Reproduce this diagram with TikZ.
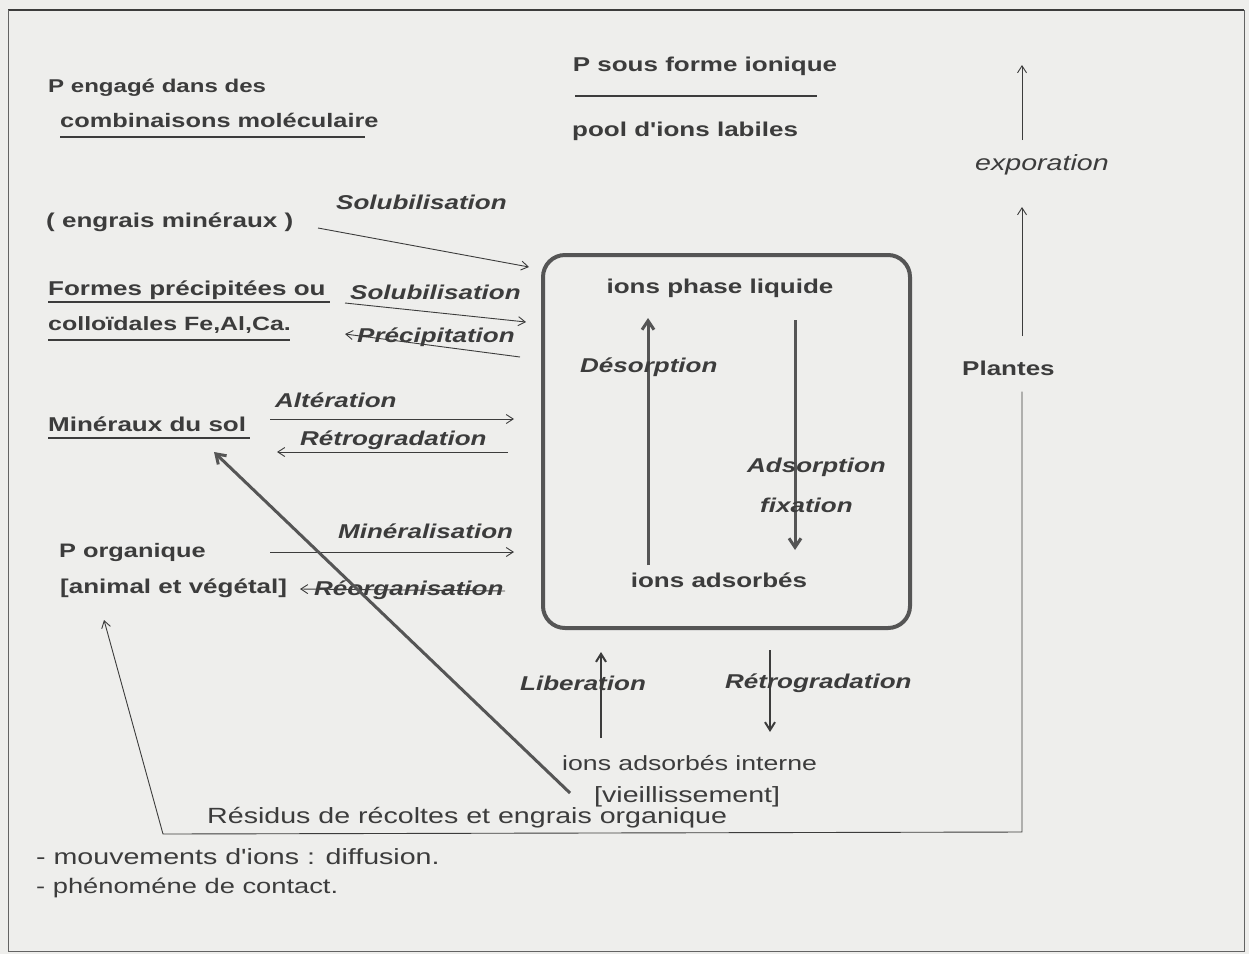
\documentclass[tikz,border=0pt]{standalone}
\usepackage{fontspec}
\setmainfont{Liberation Sans}
\newfontfamily\widefont[FakeStretch=1.3]{Liberation Sans}
\usetikzlibrary{arrows.meta}
\definecolor{bgc}{RGB}{238,238,236}
\definecolor{ink}{RGB}{60,60,60}
\definecolor{boxc}{RGB}{85,85,85}
\tikzset{
  lab/.style={anchor=west, inner sep=0pt, text=ink, font=\widefont\bfseries\fontsize{20}{24}\selectfont},
  labc/.style={lab, anchor=center},
  cond/.style={anchor=west, inner sep=0pt, text=ink, font=\widefont\fontsize{22}{26}\selectfont},
  proc/.style={anchor=west, inner sep=0pt, text=ink, font=\widefont\bfseries\itshape\fontsize{20}{24}\selectfont},
  thin/.style={draw=ink, line width=0.9pt, -{Straight Barb[length=7pt,width=9pt]}},
  thick/.style={draw=boxc, line width=3pt, -{Straight Barb[length=9pt,width=12pt,line width=3pt]}},
  mid/.style={draw=ink, line width=2pt, -{Straight Barb[length=8pt,width=10pt,line width=2pt]}},
  uline/.style={draw=ink, line width=1.5pt},
}
\begin{document}
\begin{tikzpicture}[x=1pt,y=-1pt]
\useasboundingbox (0,0) rectangle (1249,954);
\fill[bgc] (0,0) rectangle (1249,954);
% frame
\draw[ink, line width=2.5pt] (8,10) -- (1244,10);
\draw[ink!80, line width=1pt] (8,10) -- (8,951) -- (1244,951) -- (1244,10);

% top texts
\node[lab, font=\widefont\bfseries\fontsize{18.5}{22}\selectfont] (peng) at (48,88) {P engagé dans des};
\node[lab, font=\widefont\bfseries\fontsize{19.5}{23}\selectfont] (comb) at (60,120) {combinaisons moléculaire};
\draw[uline] (60,137) -- (365,137);
\node[labc] (pion) at (705,66) {P sous forme ionique};
\draw[uline] (575,96) -- (817,96);
\node[lab] (pool) at (572,131) {pool d'ions labiles};

% box
\node[draw=boxc, line width=4pt, rounded corners=22pt, minimum width=367pt, minimum height=373pt, inner sep=0pt] (box) at (726.5,441.5) {};
\node[labc] (liq) at (720,288) {ions phase liquide};
\node[labc] (ads) at (719,580) {ions adsorbés};
\coordinate (d1) at (648,565);
\coordinate (d2) at (648,318);
\draw[thick] (d1) -- (d2);
\coordinate (a1) at (795,320);
\coordinate (a2) at (795,550);
\draw[thick] (a1) -- (a2);
\node[proc] (deso) at (580,367) {Désorption};
\node[proc] (adso) at (747,467) {Adsorption};
\node[proc] (fixa) at (760,505) {fixation};

% left side
\node[lab] (engr) at (46,222) {( engrais minéraux )};
\node[proc] (sol1) at (336,202) {Solubilisation};
\coordinate (s1a) at (318,228);
\coordinate (s1b) at (529,267);
\draw[thin] (s1a) -- (s1b);

\node[lab] (form) at (48,290) {Formes précipitées ou};
\draw[uline] (48,302) -- (330,302);
\node[lab, font=\widefont\bfseries\fontsize{19.2}{23}\selectfont] (coll) at (48,325) {colloïdales Fe,Al,Ca.};
\draw[uline] (48,340) -- (290,340);
\node[proc] (sol2) at (350,292) {Solubilisation};
\coordinate (s2a) at (345,303);
\coordinate (s2b) at (526,322);
\draw[thin] (s2a) -- (s2b);
\node[proc] (prec) at (357,337) {Précipitation};
\coordinate (p1a) at (520,357);
\coordinate (p1b) at (345,334);
\draw[thin] (p1a) -- (p1b);

\node[lab] (mine) at (48,424) {Minéraux du sol};
\draw[uline] (48,438) -- (250,438);
\node[proc] (alte) at (275,400) {Altération};
\coordinate (al1) at (270,419);
\coordinate (al2) at (514,419);
\draw[thin] (al1) -- (al2);
\node[proc] (retr1) at (300,440) {Rétrogradation};
\coordinate (r1a) at (508,452);
\coordinate (r1b) at (277,452);
\draw[thin] (r1a) -- (r1b);

\node[lab, font=\widefont\bfseries\fontsize{19.5}{23}\selectfont] (porg) at (59,552) {P organique};
\node[lab] (anim) at (60,588) {[animal et végétal]};
\node[proc] (minz) at (338,531) {Minéralisation};
\coordinate (m1a) at (270,552);
\coordinate (m1b) at (514,552);
\draw[thin] (m1a) -- (m1b);
\node[proc] (reor) at (314,590) {Réorganisation};
\coordinate (o1a) at (505,591);
\coordinate (o1b) at (300,589);
\draw[thin] (o1a) -- (o1b);

% below box
\node[cond, font=\widefont\fontsize{20.5}{24}\selectfont] (inte) at (562,763) {ions adsorbés interne};
\node[cond] (viei) at (594,797) {[vieillissement]};
\node[proc] (libe) at (520,683) {Liberation};
\node[proc] (retr2) at (725,683) {Rétrogradation};
\coordinate (l1a) at (601,738);
\coordinate (l1b) at (601,652);
\draw[mid] (l1a) -- (l1b);
\coordinate (l2a) at (770,650);
\coordinate (l2b) at (770,732);
\draw[mid] (l2a) -- (l2b);
\coordinate (dg) at (214,452);
\draw[draw=boxc, line width=3pt, -{Straight Barb[length=9pt,width=12pt,line width=3pt]}] (inte.west) ++(8,30) -- (dg);

% plants
\node[lab] (plan) at (962,368) {Plantes};
\node[anchor=west, inner sep=0pt, text=ink, font=\widefont\itshape\fontsize{22}{26}\selectfont] (expo) at (975,165) {exporation};
\coordinate (e1) at (1022,140);
\coordinate (e2) at (1022,65);
\coordinate (e3) at (1022,336);
\coordinate (e4) at (1022,207);
\draw[thin] (e1) -- (e2);
\draw[thin] (e3) -- (e4);
\coordinate (b1) at (1022,832);
\coordinate (b2) at (163,834);
\coordinate (b3) at (104,620);
\draw[thin] (plan.south -| e1) ++(0,16) -- (b1) -- (b2) -- (b3);

\node[cond] (resi) at (207,818) {Résidus de récoltes et engrais organique};
\node[cond] (mouv) at (36,857) {- mouvements d'ions : diffusion.};
\node[cond, font=\widefont\fontsize{21}{25}\selectfont] (phen) at (36,888) {- phénoméne de contact.};
\end{tikzpicture}
\end{document}
